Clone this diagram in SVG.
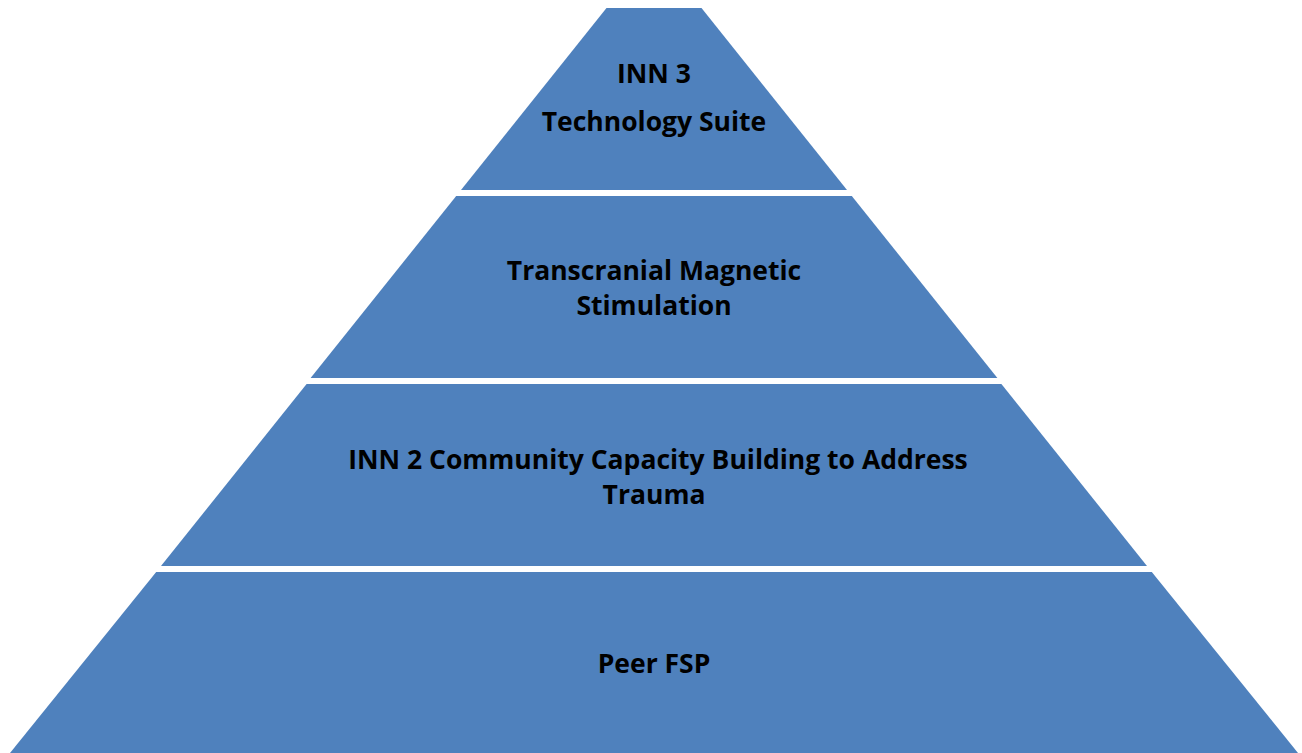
<svg xmlns="http://www.w3.org/2000/svg" width="1302" height="753" viewBox="0 0 1302 753">
<style>
.tier{fill:#4F81BD;}
.lbl{font-family:"Open Sans","Liberation Sans",sans-serif;font-weight:bold;font-size:26.5px;fill:#000;text-anchor:middle;}
</style>
<rect width="1302" height="753" fill="#fff"/>
<g id="tier1">
<polygon class="tier" points="606.5,8 701.5,8 847,190 461,190"/>
<text class="lbl" x="654" y="83">INN 3</text>
<text class="lbl" x="654" y="131">Technology Suite</text>
</g>
<g id="tier2">
<polygon class="tier" points="456.2,196 851.8,196 997.4,378 310.6,378"/>
<text class="lbl" x="654" y="280">Transcranial Magnetic</text>
<text class="lbl" x="654" y="315">Stimulation</text>
</g>
<g id="tier3">
<polygon class="tier" points="306.6,384 1001.4,384 1147,566 161,566"/>
<text class="lbl" x="658" y="469">INN 2 Community Capacity Building to Address</text>
<text class="lbl" x="654" y="504">Trauma</text>
</g>
<g id="tier4">
<polygon class="tier" points="156.2,572 1151.8,572 1298,753 10,753"/>
<text class="lbl" x="654" y="673">Peer FSP</text>
</g>
</svg>
